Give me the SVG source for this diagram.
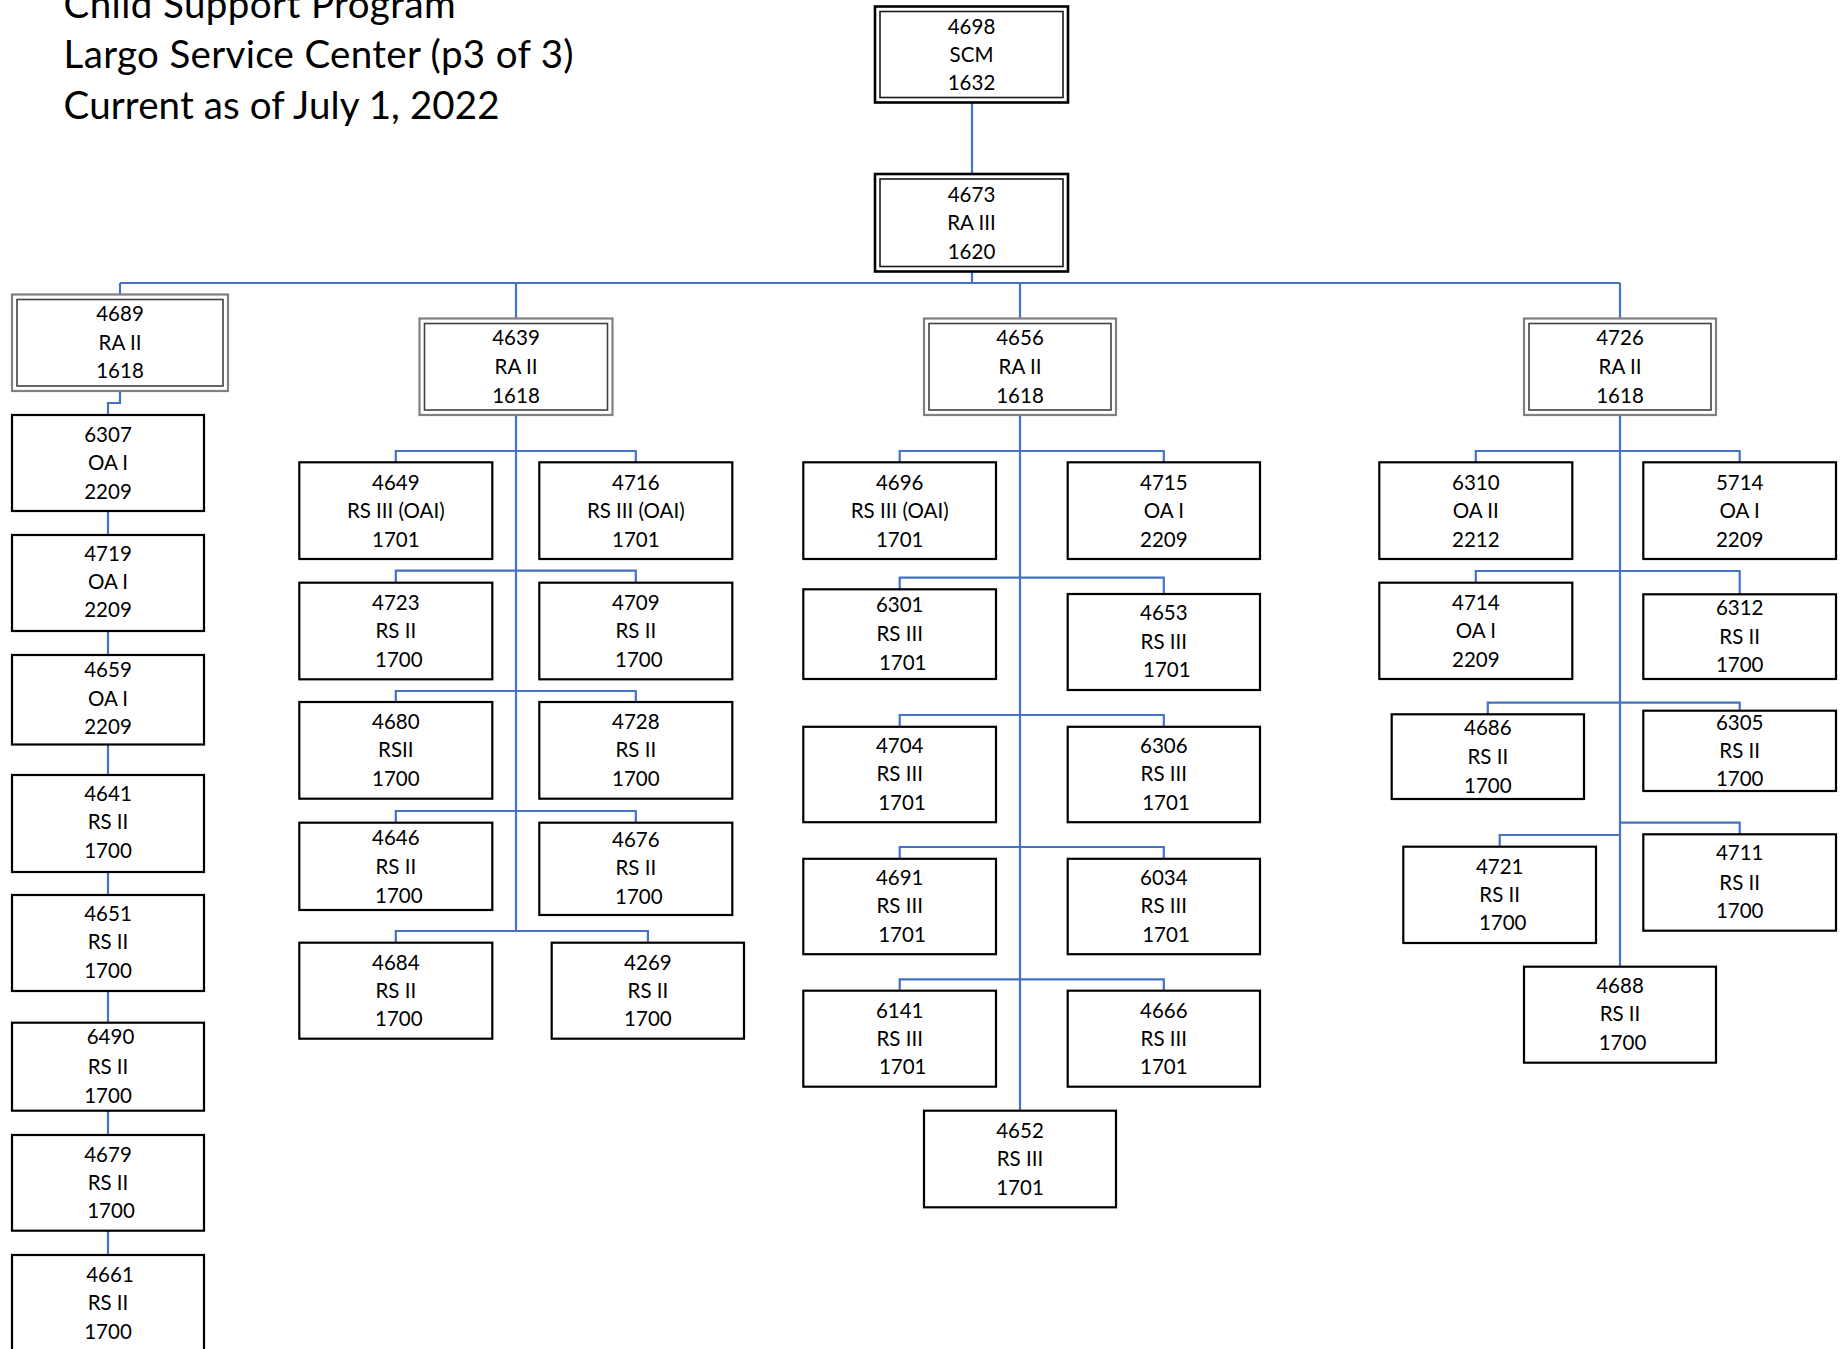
<svg xmlns="http://www.w3.org/2000/svg" width="1847" height="1349" viewBox="0 0 1847 1349">
  <style>
    .bg { fill: #ffffff; }
    .bx { fill: #ffffff; stroke: #000000; stroke-width: 2.2; }
    .dko { fill: #ffffff; stroke: #000000; stroke-width: 2.6; }
    .dki { fill: none; stroke: #1a1a1a; stroke-width: 1.6; }
    .gro { fill: #ffffff; stroke: #808080; stroke-width: 2.2; }
    .gri { fill: none; stroke: #404040; stroke-width: 1.6; }
    .cn { fill: none; stroke: #4472C4; stroke-width: 2.2; }
    .t { font-family: Lato, "Open Sans", "Liberation Sans", sans-serif; font-size: 20.5px; fill: #000000; text-anchor: middle; }
    .title { font-family: Lato, "Open Sans", "Liberation Sans", sans-serif; font-size: 38.5px; fill: #000000; }
  </style>

  <rect class="bg" x="0" y="0" width="1847" height="1349"/>

  <!-- Heading -->
  <g id="heading">
    <text class="title" x="63.6" y="17.5" textLength="392" lengthAdjust="spacing">Child Support Program</text>
    <text class="title" x="63.6" y="68" textLength="510" lengthAdjust="spacing">Largo Service Center (p3 of 3)</text>
    <text class="title" x="63.6" y="118.6" textLength="436" lengthAdjust="spacing">Current as of July 1, 2022</text>
  </g>

  <!-- Reporting lines -->
  <g id="connectors">
    <!-- top of chart -->
    <path class="cn" d="M972 102.5 V174"/>
    <path class="cn" d="M972 271.5 V283"/>
    <path class="cn" d="M120 283 H1620"/>
    <path class="cn" d="M120 283 V294.5"/>
    <path class="cn" d="M516 283 V318.5"/>
    <path class="cn" d="M1020 283 V318.5"/>
    <path class="cn" d="M1620 283 V318.5"/>

    <!-- 4689 chain -->
    <path class="cn" d="M120 391 V403 H108 V415"/>
    <path class="cn" d="M108 511 V535"/>
    <path class="cn" d="M108 631 V655"/>
    <path class="cn" d="M108 744.5 V775"/>
    <path class="cn" d="M108 872 V895"/>
    <path class="cn" d="M108 991 V1022.7"/>
    <path class="cn" d="M108 1110.7 V1135"/>
    <path class="cn" d="M108 1230.7 V1255"/>

    <!-- 4639 team -->
    <path class="cn" d="M516 415 V931"/>
    <path class="cn" d="M395.8 462.3 V451 H635.8 V462.3"/>
    <path class="cn" d="M395.8 582.7 V570.7 H635.8 V582.7"/>
    <path class="cn" d="M395.8 702 V691 H635.8 V702"/>
    <path class="cn" d="M395.8 822.7 V811 H635.8 V822.7"/>
    <path class="cn" d="M395.8 942.7 V931 H647.9 V942.7"/>

    <!-- 4656 team -->
    <path class="cn" d="M1020 415 V1110.7"/>
    <path class="cn" d="M899.7 462.3 V451 H1163.8 V462.3"/>
    <path class="cn" d="M899.7 589.3 V577.7 H1163.8 V594"/>
    <path class="cn" d="M899.7 726.8 V715 H1163.8 V726.8"/>
    <path class="cn" d="M899.7 858.8 V847 H1163.8 V858.8"/>
    <path class="cn" d="M899.7 990.7 V979.3 H1163.8 V990.7"/>

    <!-- 4726 team -->
    <path class="cn" d="M1620 415 V966.7"/>
    <path class="cn" d="M1475.8 462.3 V451 H1739.7 V462.3"/>
    <path class="cn" d="M1475.8 582.7 V571 H1739.7 V594.3"/>
    <path class="cn" d="M1487.8 714.3 V702.7 H1739.7 V710.7"/>
    <path class="cn" d="M1620 822.7 H1739.7 V834.3"/>
    <path class="cn" d="M1620 835 H1499.7 V846.7"/>
  </g>

  <!-- Manager and assistant manager -->
  <g id="n4698">
    <rect class="dko" x="875" y="6.5" width="193" height="96"/>
    <rect class="dki" x="880" y="11.5" width="183" height="86"/>
    <text class="t"><tspan x="971.5" y="33.5">4698</tspan><tspan x="971.5" y="61.5">SCM</tspan><tspan x="971.5" y="90">1632</tspan></text>
  </g>
  <g id="n4673">
    <rect class="dko" x="875" y="174" width="193" height="97.5"/>
    <rect class="dki" x="880" y="179" width="183" height="87.5"/>
    <text class="t"><tspan x="971.5" y="202">4673</tspan><tspan x="971.5" y="229.7">RA III</tspan><tspan x="971.5" y="258.7">1620</tspan></text>
  </g>

  <!-- Unit supervisors -->
  <g id="n4689">
    <rect class="gro" x="12" y="294.5" width="216" height="96.5"/>
    <rect class="gri" x="17" y="299.5" width="206" height="86.5"/>
    <text class="t"><tspan x="120" y="321.3">4689</tspan><tspan x="120" y="350.3">RA II</tspan><tspan x="120" y="378">1618</tspan></text>
  </g>
  <g id="n4639">
    <rect class="gro" x="419.5" y="318.5" width="193" height="96.5"/>
    <rect class="gri" x="424.5" y="323.5" width="183" height="86.5"/>
    <text class="t"><tspan x="516" y="345.3">4639</tspan><tspan x="516" y="373.7">RA II</tspan><tspan x="516" y="402.7">1618</tspan></text>
  </g>
  <g id="n4656">
    <rect class="gro" x="924" y="318.5" width="192" height="96.5"/>
    <rect class="gri" x="929" y="323.5" width="182" height="86.5"/>
    <text class="t"><tspan x="1020" y="345.3">4656</tspan><tspan x="1020" y="373.7">RA II</tspan><tspan x="1020" y="402.7">1618</tspan></text>
  </g>
  <g id="n4726">
    <rect class="gro" x="1524" y="318.5" width="192" height="96.5"/>
    <rect class="gri" x="1529" y="323.5" width="182" height="86.5"/>
    <text class="t"><tspan x="1620" y="345.3">4726</tspan><tspan x="1620" y="373.7">RA II</tspan><tspan x="1620" y="402.7">1618</tspan></text>
  </g>

  <!-- 4689 staff -->
  <g id="n6307">
    <rect class="bx" x="12" y="415" width="192" height="96"/>
    <text class="t"><tspan x="108" y="442">6307</tspan><tspan x="108" y="470.3">OA I</tspan><tspan x="108" y="498.7">2209</tspan></text>
  </g>
  <g id="n4719">
    <rect class="bx" x="12" y="535" width="192" height="96"/>
    <text class="t"><tspan x="108" y="560.7">4719</tspan><tspan x="108" y="589">OA I</tspan><tspan x="108" y="617">2209</tspan></text>
  </g>
  <g id="n4659">
    <rect class="bx" x="12" y="655" width="192" height="89.5"/>
    <text class="t"><tspan x="108" y="677">4659</tspan><tspan x="108" y="705.6">OA I</tspan><tspan x="108" y="734">2209</tspan></text>
  </g>
  <g id="n4641">
    <rect class="bx" x="12" y="775" width="192" height="97"/>
    <text class="t"><tspan x="108" y="801">4641</tspan><tspan x="108" y="829">RS II</tspan><tspan x="108" y="857.5">1700</tspan></text>
  </g>
  <g id="n4651">
    <rect class="bx" x="12" y="895" width="192" height="96"/>
    <text class="t"><tspan x="108" y="921">4651</tspan><tspan x="108" y="949">RS II</tspan><tspan x="108" y="977.7">1700</tspan></text>
  </g>
  <g id="n6490">
    <rect class="bx" x="12" y="1022.7" width="192" height="88"/>
    <text class="t"><tspan x="110.5" y="1044.3">6490</tspan><tspan x="108" y="1073.7">RS II</tspan><tspan x="108" y="1102.7">1700</tspan></text>
  </g>
  <g id="n4679">
    <rect class="bx" x="12" y="1135" width="192" height="95.7"/>
    <text class="t"><tspan x="108" y="1162">4679</tspan><tspan x="108" y="1189.7">RS II</tspan><tspan x="111" y="1218">1700</tspan></text>
  </g>
  <g id="n4661">
    <rect class="bx" x="12" y="1255" width="192" height="100"/>
    <text class="t"><tspan x="110" y="1282">4661</tspan><tspan x="108" y="1310.3">RS II</tspan><tspan x="108" y="1338.7">1700</tspan></text>
  </g>

  <!-- 4639 staff -->
  <g id="n4649">
    <rect class="bx" x="299.3" y="462.3" width="193" height="96.7"/>
    <text class="t"><tspan x="395.8" y="489.7">4649</tspan><tspan x="395.8" y="518">RS III (OAI)</tspan><tspan x="395.8" y="547">1701</tspan></text>
  </g>
  <g id="n4716">
    <rect class="bx" x="539.3" y="462.3" width="193" height="96.7"/>
    <text class="t"><tspan x="635.8" y="489.7">4716</tspan><tspan x="635.8" y="518">RS III (OAI)</tspan><tspan x="635.8" y="547">1701</tspan></text>
  </g>
  <g id="n4723">
    <rect class="bx" x="299.3" y="582.7" width="193" height="96.6"/>
    <text class="t"><tspan x="395.8" y="609.7">4723</tspan><tspan x="395.8" y="638">RS II</tspan><tspan x="398.8" y="667">1700</tspan></text>
  </g>
  <g id="n4709">
    <rect class="bx" x="539.3" y="582.7" width="193" height="96.6"/>
    <text class="t"><tspan x="635.8" y="609.7">4709</tspan><tspan x="635.8" y="638">RS II</tspan><tspan x="638.8" y="667">1700</tspan></text>
  </g>
  <g id="n4680">
    <rect class="bx" x="299.3" y="702" width="193" height="96.7"/>
    <text class="t"><tspan x="395.8" y="729">4680</tspan><tspan x="395.8" y="757.4">RSII</tspan><tspan x="395.8" y="785.7">1700</tspan></text>
  </g>
  <g id="n4728">
    <rect class="bx" x="539.3" y="702" width="193" height="96.7"/>
    <text class="t"><tspan x="635.8" y="729">4728</tspan><tspan x="635.8" y="757.4">RS II</tspan><tspan x="635.8" y="785.7">1700</tspan></text>
  </g>
  <g id="n4646">
    <rect class="bx" x="299.3" y="822.7" width="193" height="87.3"/>
    <text class="t"><tspan x="395.8" y="844.7">4646</tspan><tspan x="395.8" y="873.5">RS II</tspan><tspan x="398.8" y="903">1700</tspan></text>
  </g>
  <g id="n4676">
    <rect class="bx" x="539.3" y="822.7" width="193" height="92.3"/>
    <text class="t"><tspan x="635.8" y="847">4676</tspan><tspan x="635.8" y="875.3">RS II</tspan><tspan x="638.8" y="904.3">1700</tspan></text>
  </g>
  <g id="n4684">
    <rect class="bx" x="299.3" y="942.7" width="193" height="96"/>
    <text class="t"><tspan x="395.8" y="969.7">4684</tspan><tspan x="395.8" y="997.7">RS II</tspan><tspan x="398.8" y="1026.3">1700</tspan></text>
  </g>
  <g id="n4269">
    <rect class="bx" x="551.7" y="942.7" width="192.3" height="96"/>
    <text class="t"><tspan x="647.9" y="969.7">4269</tspan><tspan x="647.9" y="997.7">RS II</tspan><tspan x="647.9" y="1026.3">1700</tspan></text>
  </g>

  <!-- 4656 staff -->
  <g id="n4696">
    <rect class="bx" x="803.3" y="462.3" width="192.7" height="96.7"/>
    <text class="t"><tspan x="899.7" y="489.7">4696</tspan><tspan x="899.7" y="518">RS III (OAI)</tspan><tspan x="899.7" y="547">1701</tspan></text>
  </g>
  <g id="n4715">
    <rect class="bx" x="1067.7" y="462.3" width="192.3" height="96.7"/>
    <text class="t"><tspan x="1163.8" y="489.7">4715</tspan><tspan x="1163.8" y="518">OA I</tspan><tspan x="1163.8" y="547">2209</tspan></text>
  </g>
  <g id="n6301">
    <rect class="bx" x="803.3" y="589.3" width="192.7" height="89.7"/>
    <text class="t"><tspan x="899.7" y="612">6301</tspan><tspan x="899.7" y="641">RS III</tspan><tspan x="902.7" y="669.7">1701</tspan></text>
  </g>
  <g id="n4653">
    <rect class="bx" x="1067.7" y="594" width="192.3" height="96"/>
    <text class="t"><tspan x="1163.8" y="620.3">4653</tspan><tspan x="1163.8" y="648.7">RS III</tspan><tspan x="1166.8" y="677">1701</tspan></text>
  </g>
  <g id="n4704">
    <rect class="bx" x="803.3" y="726.8" width="192.7" height="95.4"/>
    <text class="t"><tspan x="899.7" y="752.7">4704</tspan><tspan x="899.7" y="781">RS III</tspan><tspan x="902" y="810.4">1701</tspan></text>
  </g>
  <g id="n6306">
    <rect class="bx" x="1067.7" y="726.8" width="192.3" height="95.4"/>
    <text class="t"><tspan x="1163.8" y="752.7">6306</tspan><tspan x="1163.8" y="781">RS III</tspan><tspan x="1166" y="810.4">1701</tspan></text>
  </g>
  <g id="n4691">
    <rect class="bx" x="803.3" y="858.8" width="192.7" height="95.4"/>
    <text class="t"><tspan x="899.7" y="884.6">4691</tspan><tspan x="899.7" y="913">RS III</tspan><tspan x="902" y="942.3">1701</tspan></text>
  </g>
  <g id="n6034">
    <rect class="bx" x="1067.7" y="858.8" width="192.3" height="95.4"/>
    <text class="t"><tspan x="1163.8" y="884.6">6034</tspan><tspan x="1163.8" y="913">RS III</tspan><tspan x="1166" y="942.3">1701</tspan></text>
  </g>
  <g id="n6141">
    <rect class="bx" x="803.3" y="990.7" width="192.7" height="96"/>
    <text class="t"><tspan x="899.7" y="1018">6141</tspan><tspan x="899.7" y="1046.3">RS III</tspan><tspan x="902.7" y="1074.3">1701</tspan></text>
  </g>
  <g id="n4666">
    <rect class="bx" x="1067.7" y="990.7" width="192.3" height="96"/>
    <text class="t"><tspan x="1163.8" y="1018">4666</tspan><tspan x="1163.8" y="1046.3">RS III</tspan><tspan x="1163.8" y="1074.3">1701</tspan></text>
  </g>
  <g id="n4652">
    <rect class="bx" x="924" y="1110.7" width="192" height="96.6"/>
    <text class="t"><tspan x="1020" y="1138">4652</tspan><tspan x="1020" y="1166.3">RS III</tspan><tspan x="1020" y="1194.7">1701</tspan></text>
  </g>

  <!-- 4726 staff -->
  <g id="n6310">
    <rect class="bx" x="1379.3" y="462.3" width="193" height="96.7"/>
    <text class="t"><tspan x="1475.8" y="489.7">6310</tspan><tspan x="1475.8" y="518">OA II</tspan><tspan x="1475.8" y="547">2212</tspan></text>
  </g>
  <g id="n5714">
    <rect class="bx" x="1643.3" y="462.3" width="192.7" height="96.7"/>
    <text class="t"><tspan x="1739.7" y="489.7">5714</tspan><tspan x="1739.7" y="518">OA I</tspan><tspan x="1739.7" y="547">2209</tspan></text>
  </g>
  <g id="n4714">
    <rect class="bx" x="1379.3" y="582.7" width="193" height="96.3"/>
    <text class="t"><tspan x="1475.8" y="609.7">4714</tspan><tspan x="1475.8" y="638">OA I</tspan><tspan x="1475.8" y="667">2209</tspan></text>
  </g>
  <g id="n6312">
    <rect class="bx" x="1643.3" y="594.3" width="192.7" height="84.7"/>
    <text class="t"><tspan x="1739.7" y="614.7">6312</tspan><tspan x="1739.7" y="643.7">RS II</tspan><tspan x="1739.7" y="672">1700</tspan></text>
  </g>
  <g id="n4686">
    <rect class="bx" x="1391.7" y="714.3" width="192.3" height="84.7"/>
    <text class="t"><tspan x="1487.8" y="734.7">4686</tspan><tspan x="1487.8" y="763.7">RS II</tspan><tspan x="1487.8" y="792.7">1700</tspan></text>
  </g>
  <g id="n6305">
    <rect class="bx" x="1643.3" y="710.7" width="192.7" height="80.3"/>
    <text class="t"><tspan x="1739.7" y="729.7">6305</tspan><tspan x="1739.7" y="757.7">RS II</tspan><tspan x="1739.7" y="786.3">1700</tspan></text>
  </g>
  <g id="n4721">
    <rect class="bx" x="1403.3" y="846.7" width="192.7" height="96.3"/>
    <text class="t"><tspan x="1499.7" y="873.7">4721</tspan><tspan x="1499.7" y="902">RS II</tspan><tspan x="1502.7" y="930.3">1700</tspan></text>
  </g>
  <g id="n4711">
    <rect class="bx" x="1643.3" y="834.3" width="192.7" height="96.4"/>
    <text class="t"><tspan x="1739.7" y="860.3">4711</tspan><tspan x="1739.7" y="889.7">RS II</tspan><tspan x="1739.7" y="918">1700</tspan></text>
  </g>
  <g id="n4688">
    <rect class="bx" x="1524" y="966.7" width="192" height="96"/>
    <text class="t"><tspan x="1620" y="993">4688</tspan><tspan x="1620" y="1021.3">RS II</tspan><tspan x="1622.5" y="1050.3">1700</tspan></text>
  </g>
</svg>
